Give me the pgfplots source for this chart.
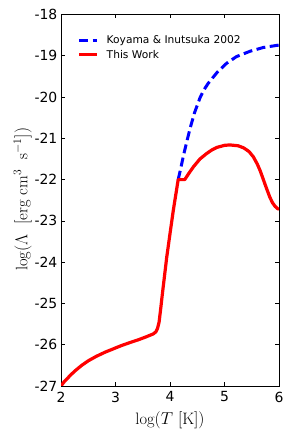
\documentclass[border=0pt]{standalone}
\usepackage{pgfplots}
\pgfplotsset{compat=1.18}
\usepackage{fontspec}
\newfontfamily\dejavu{DejaVu Sans}
\begin{document}
\begin{tikzpicture}
\useasboundingbox (0,0) rectangle (291bp,436bp);
\begin{axis}[
  at={(61bp,50bp)}, anchor=south west,
  scale only axis, width=218bp, height=371.5bp,
  xmin=2, xmax=6, ymin=-27, ymax=-18,
  xtick={2,3,4,5,6}, xticklabels={2,3,4,5,6},
  ytick={-27,-26,-25,-24,-23,-22,-21,-20,-19,-18},
  yticklabels={-27,-26,-25,-24,-23,-22,-21,-20,-19,-18},
  tick align=inside, major tick length=4bp,
  tick style={black, line width=0.6bp},
  axis line style={line width=0.8bp},
  ticklabel style={font=\dejavu\fontsize{14}{14}\selectfont, inner sep=0pt},
  yticklabel style={anchor=east, xshift=-3.5bp},
  xticklabel style={anchor=north, yshift=-5.5bp},
  xlabel={$\log(T\ [\mathrm{K}])$},
  ylabel={$\log(\Lambda\ \ [\mathrm{erg\ cm^{3}\ \ s^{-1}}])$},
  label style={font=\fontsize{16.6}{18}\selectfont},
  xlabel style={at={(axis description cs:0.5,-0.0915)}, anchor=center},
  ylabel style={at={(axis description cs:-0.1766,0.5026)}, anchor=center},
  legend style={at={(axis description cs:0.075,0.944)}, anchor=north west, draw=none, fill=none,
    font=\dejavu\fontsize{10.7}{12}\selectfont, inner sep=0pt, row sep=5bp, column sep=0pt,
    nodes={inner sep=0pt}},
  legend cell align=left,
  legend image code/.code={\draw[#1] (0bp,0bp) -- (18bp,0bp) (26bp,0bp);},
]
\addplot[blue, line width=3bp, dash pattern=on 9bp off 4.5bp] coordinates {
(4.15,-22.00) (4.19,-21.77) (4.25,-21.40) (4.31,-21.07) (4.37,-20.75) (4.45,-20.38)
(4.55,-20.02) (4.62,-19.83) (4.70,-19.67) (4.86,-19.41) (5.04,-19.18) (5.22,-19.02)
(5.47,-18.89) (5.71,-18.80) (6.00,-18.74)
};
\addlegendentry{Koyama \& Inutsuka 2002}
\addplot[red, line width=3.2bp, line join=round] coordinates {
(2.00,-27.00) (2.05,-26.91) (2.10,-26.84) (2.18,-26.73) (2.26,-26.63) (2.38,-26.50)
(2.50,-26.39) (2.65,-26.28) (2.81,-26.18) (2.96,-26.10) (3.11,-26.02) (3.26,-25.95)
(3.42,-25.88) (3.56,-25.81) (3.69,-25.74) (3.74,-25.69) (3.77,-25.61) (3.80,-25.45)
(3.83,-25.12) (3.86,-24.77) (3.94,-23.88) (4.00,-23.31) (4.06,-22.75) (4.15,-22.00)
(4.27,-22.00) (4.35,-21.84) (4.43,-21.69) (4.55,-21.50) (4.67,-21.37) (4.77,-21.28)
(4.86,-21.22) (5.00,-21.17) (5.10,-21.16) (5.25,-21.18) (5.35,-21.23) (5.45,-21.32)
(5.53,-21.45) (5.60,-21.62) (5.65,-21.77) (5.70,-21.95) (5.74,-22.10) (5.79,-22.28)
(5.83,-22.42) (5.88,-22.56) (5.93,-22.65) (5.97,-22.70) (6.00,-22.72)
};
\addlegendentry{This Work}
\end{axis}
\end{tikzpicture}
\end{document}
